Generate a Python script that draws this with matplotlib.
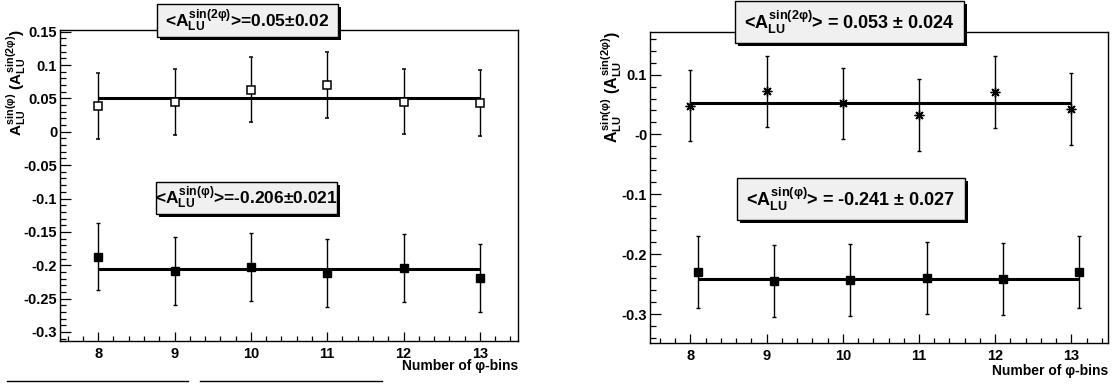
import matplotlib
matplotlib.use("Agg")
import matplotlib.pyplot as plt
from matplotlib.patches import Rectangle
from matplotlib.lines import Line2D
from matplotlib.ticker import MultipleLocator, FixedLocator, FixedFormatter, FuncFormatter

# ---------------- data ----------------
# left study: binning scan, sin(2phi) and sin(phi) amplitudes
left_bins = [8, 9, 10, 11, 12, 13]
left_sin2phi = [0.039, 0.045, 0.063, 0.070, 0.045, 0.043]
left_sin2phi_err = [0.0495, 0.0495, 0.049, 0.049, 0.049, 0.0495]
left_sinphi = [-0.187, -0.208, -0.202, -0.212, -0.204, -0.219]
left_sinphi_err = [0.0505, 0.051, 0.051, 0.051, 0.051, 0.051]
left_fit_sin2phi, left_fit_sin2phi_err = 0.05, 0.02
left_fit_sinphi, left_fit_sinphi_err = -0.206, 0.021
left_fit_range = [8, 13]

# right study: same scan, sin(phi) points shifted by 0.1 for visibility
right_bins_sin2phi = [8, 9, 10, 11, 12, 13]
right_sin2phi = [0.048, 0.072, 0.052, 0.032, 0.071, 0.042]
right_sin2phi_err = [0.059, 0.059, 0.059, 0.060, 0.060, 0.060]
right_bins_sinphi = [8.1, 9.1, 10.1, 11.1, 12.1, 13.1]
right_sinphi = [-0.230, -0.245, -0.243, -0.240, -0.241, -0.229]
right_sinphi_err = [0.060, 0.060, 0.060, 0.060, 0.060, 0.060]
right_fit_sin2phi, right_fit_sin2phi_err = 0.053, 0.024
right_fit_sinphi, right_fit_sinphi_err = -0.241, 0.027
right_fit_range_sin2phi = [8, 13]
right_fit_range_sinphi = [8.1, 13.1]

right_ytick_values = [-0.3, -0.2, -0.1, 0.0, 0.1]
right_ytick_labels = ["-0.3", "-0.2", "-0.1", "-0", "0.1"]

ylabel_text = "$A^{sin(φ)}_{LU}$ ($A^{sin(2φ)}_{LU}$)"
xlabel_text = "Number of φ-bins"

# ---------------- style ----------------
plt.rcParams.update({
    "font.family": ["Liberation Sans", "DejaVu Sans"],
    "font.weight": "bold",
    "mathtext.fontset": "custom",
    "mathtext.rm": "Liberation Sans:bold",
    "mathtext.it": "Liberation Sans:bold",
    "mathtext.bf": "Liberation Sans:bold",
    "mathtext.sf": "Liberation Sans:bold",
    "mathtext.fallback": "stixsans",
})

W, H = 1116, 387
fig = plt.figure(figsize=(W / 100, H / 100), dpi=100)


def px_axes(x0, y0, x1, y1):
    return fig.add_axes([x0 / W, 1 - y1 / H, (x1 - x0) / W, (y1 - y0) / H])


def style_axes(ax):
    for s in ax.spines.values():
        s.set_linewidth(1)
        s.set_color("black")
    ax.tick_params(which="both", direction="in", top=False, right=False,
                   labelsize=10.5, width=0.9, colors="black")
    ax.tick_params(axis="y", which="major", length=8, pad=2)
    ax.tick_params(axis="y", which="minor", length=4)
    ax.tick_params(axis="x", which="major", length=6.5, pad=4)
    ax.tick_params(axis="x", which="minor", length=3.5)
    ax.xaxis.set_major_locator(MultipleLocator(1))
    ax.xaxis.set_minor_locator(MultipleLocator(0.2))


def stat_box(x0, y0, x1, y1, text, size):
    sh = 3
    fig.add_artist(Rectangle(((x0 + sh) / W, 1 - (y1 + sh) / H), (x1 - x0) / W, (y1 - y0) / H,
                             transform=fig.transFigure, facecolor="black",
                             edgecolor="none", zorder=5))
    fig.add_artist(Rectangle((x0 / W, 1 - y1 / H), (x1 - x0) / W, (y1 - y0) / H,
                             transform=fig.transFigure, facecolor="#f0f0f0",
                             edgecolor="black", lw=1, zorder=6))
    fig.text((x0 + x1) / 2 / W, 1 - (y0 + y1) / 2 / H, text, ha="center",
             va="center", fontsize=size, zorder=7)


def fit_line(ax, xr, value):
    ax.plot(xr, [value, value], color="black", lw=2.2, zorder=2, solid_capstyle="butt")


eb_kw = dict(ecolor="black", elinewidth=1, capsize=1.5, capthick=1, linestyle="none", zorder=3)

# ---------------- left panel ----------------
axL = px_axes(60, 30, 518, 341)
style_axes(axL)
axL.set_xlim(7.5, 13.5)
axL.set_ylim(-0.3135, 0.1525)
axL.yaxis.set_major_locator(MultipleLocator(0.05))
axL.yaxis.set_minor_locator(MultipleLocator(0.01))
axL.yaxis.set_major_formatter(FuncFormatter(lambda v, p: f"{round(v, 4) + 0.0:g}"))

fit_line(axL, left_fit_range, left_fit_sin2phi)
fit_line(axL, left_fit_range, left_fit_sinphi)
axL.errorbar(left_bins, left_sin2phi, yerr=left_sin2phi_err, marker="s", ms=5.5,
             mfc="white", mec="black", mew=1.1, **eb_kw)
axL.errorbar(left_bins, left_sinphi, yerr=left_sinphi_err, marker="s", ms=5.5,
             mfc="black", mec="black", mew=1, **eb_kw)

fig.text(16 / W, 1 - 29 / H, ylabel_text, rotation=90, ha="center", va="top", fontsize=11)
fig.text(518 / W, 1 - 366 / H, xlabel_text, ha="right", va="center", fontsize=10)

stat_box(157, 4, 338, 37,
         f"<$A^{{sin(2φ)}}_{{LU}}$>={left_fit_sin2phi:g}±{left_fit_sin2phi_err:g}", 12.5)
stat_box(156, 182, 337, 214,
         f"<$A^{{sin(φ)}}_{{LU}}$>={left_fit_sinphi:g}±{left_fit_sinphi_err:g}", 12.5)

# ---------------- right panel ----------------
axR = px_axes(650, 32, 1108, 343)
style_axes(axR)
axR.set_xlim(7.47, 13.48)
axR.set_ylim(-0.348, 0.171)
axR.yaxis.set_major_locator(FixedLocator(right_ytick_values))
axR.yaxis.set_major_formatter(FixedFormatter(right_ytick_labels))
axR.yaxis.set_minor_locator(MultipleLocator(0.02))

fit_line(axR, right_fit_range_sin2phi, right_fit_sin2phi)
fit_line(axR, right_fit_range_sinphi, right_fit_sinphi)
axR.errorbar(right_bins_sin2phi, right_sin2phi, yerr=right_sin2phi_err, marker=(8, 2, 0),
             ms=7, mfc="black", mec="black", mew=1, **eb_kw)
axR.errorbar(right_bins_sinphi, right_sinphi, yerr=right_sinphi_err, marker="s", ms=6,
             mfc="black", mec="black", mew=1, **eb_kw)

fig.text(612 / W, 1 - 31 / H, ylabel_text, rotation=90, ha="center", va="top", fontsize=11.5)
fig.text(1108 / W, 1 - 371 / H, xlabel_text, ha="right", va="center", fontsize=10)

stat_box(735, 1, 964, 43,
         f"<$A^{{sin(2φ)}}_{{LU}}$> = {right_fit_sin2phi:g} ± {right_fit_sin2phi_err:g}", 13)
stat_box(737, 178, 965, 220,
         f"<$A^{{sin(φ)}}_{{LU}}$> = {right_fit_sinphi:g} ± {right_fit_sinphi_err:g}", 13)

# two short rules under the left panel
for x0, x1 in [(7, 188), (200, 382)]:
    fig.add_artist(Line2D([x0 / W, x1 / W], [1 - 381 / H, 1 - 381 / H],
                          transform=fig.transFigure, color="black", lw=1))

fig.savefig("out.png", dpi=100, facecolor="white")
